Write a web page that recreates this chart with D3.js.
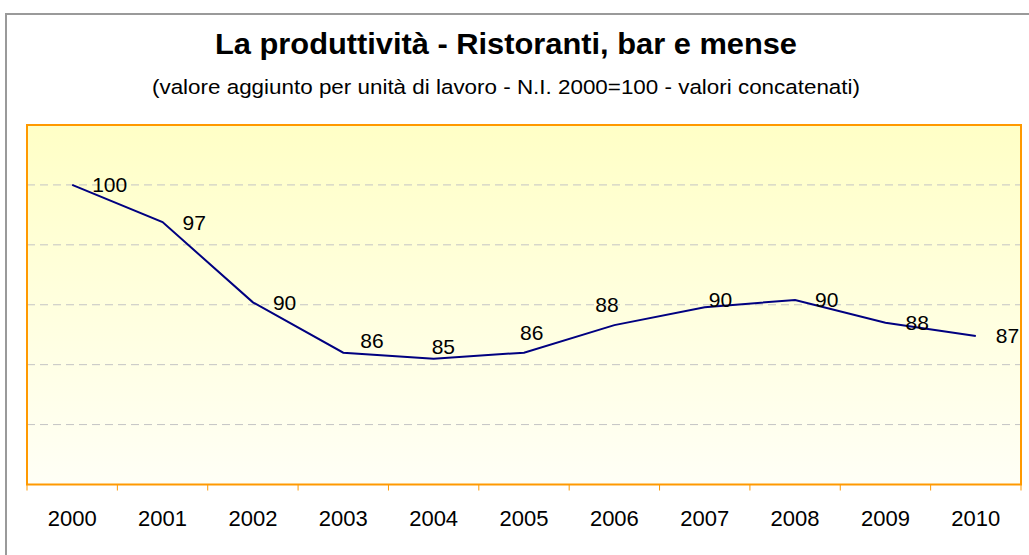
<!DOCTYPE html>
<html>
<head>
<meta charset="utf-8">
<script src="https://cdn.jsdelivr.net/npm/d3@7"></script>
<style>
  body { margin: 0; background: #fff; }
  svg text { font-family: "Liberation Sans", Arial, sans-serif; fill: #000; }
</style>
</head>
<body>
<div class="chart"></div>
<script>
// data
var years = ["2000", "2001", "2002", "2003", "2004", "2005", "2006", "2007", "2008", "2009", "2010"];
var values = [100, 96.9, 90.2, 86.0, 85.5, 86.0, 88.3, 89.8, 90.4, 88.5, 87.4];
var labels = ["100", "97", "90", "86", "85", "86", "88", "90", "90", "88", "87"];
var yDomain = [75, 105];

// hand moved labels in the original (px nudges from default right position)
var labelShift = [[0, 0], [0, 0], [0, 0], [-3, -12], [-22, -12], [-24, -20], [-39, -21], [-16, -8], [0, 0], [0, 0], [0, 0]];

const width = 1029, height = 555;
const plot = { left: 27, right: 1021, top: 125, bottom: 484.5 };

var svg = d3.select(".chart").append("svg")
  .attr("width", width)
  .attr("height", height);

// outer frame
svg.append("rect")
  .attr("x", 6).attr("y", 14)
  .attr("width", 1100).attr("height", 600)
  .attr("fill", "#fff")
  .attr("stroke", "#9a9a9a")
  .attr("stroke-width", 2);

// titles
svg.append("text")
  .attr("x", 506).attr("y", 54)
  .attr("text-anchor", "middle")
  .attr("textLength", 582)
  .attr("lengthAdjust", "spacingAndGlyphs")
  .style("font-weight", "bold")
  .style("font-size", "30px")
  .text("La produttività - Ristoranti, bar e mense");

svg.append("text")
  .attr("x", 506).attr("y", 94)
  .attr("text-anchor", "middle")
  .attr("textLength", 708)
  .attr("lengthAdjust", "spacingAndGlyphs")
  .style("font-size", "20.5px")
  .text("(valore aggiunto per unità di lavoro - N.I. 2000=100 - valori concatenati)");

var x = d3.scaleBand().domain(years).range([plot.left, plot.right]).padding(0);
var y = d3.scaleLinear().domain(yDomain).range([plot.bottom, plot.top]);

// plot background
var grad = svg.append("defs").append("linearGradient")
  .attr("id", "bg").attr("x1", 0).attr("y1", 0).attr("x2", 0).attr("y2", 1);
grad.append("stop").attr("offset", "0%").attr("stop-color", "#ffffc6");
grad.append("stop").attr("offset", "100%").attr("stop-color", "#fffff6");

svg.append("rect")
  .attr("x", plot.left).attr("y", plot.top)
  .attr("width", plot.right - plot.left)
  .attr("height", plot.bottom - plot.top)
  .attr("fill", "url(#bg)");

// gridlines
svg.append("g")
  .selectAll("line")
  .data(y.ticks(6).filter(d => d > yDomain[0] && d < yDomain[1]))
  .enter().append("line")
  .attr("x1", plot.left).attr("x2", plot.right)
  .attr("y1", d => y(d)).attr("y2", d => y(d))
  .attr("stroke", "#c4c4c4")
  .attr("stroke-width", 1)
  .attr("stroke-dasharray", "8,5");

// plot border
svg.append("rect")
  .attr("x", plot.left).attr("y", plot.top)
  .attr("width", plot.right - plot.left)
  .attr("height", plot.bottom - plot.top)
  .attr("fill", "none")
  .attr("stroke", "#ff9900")
  .attr("stroke-width", 2);

// category ticks at band edges
var edges = years.map(d => x(d)).concat([plot.right]);
svg.append("g")
  .selectAll("line")
  .data(edges)
  .enter().append("line")
  .attr("x1", d => d).attr("x2", d => d)
  .attr("y1", plot.bottom).attr("y2", plot.bottom + 6)
  .attr("stroke", "#ff9900")
  .attr("stroke-width", 1);

// axis labels
var xAxis = svg.append("g")
  .attr("transform", "translate(0," + plot.bottom + ")")
  .call(d3.axisBottom(x).tickSize(0).tickPadding(0));
xAxis.select(".domain").remove();
xAxis.selectAll("text")
  .attr("y", 41.5)
  .attr("dy", null)
  .style("font-size", "22px")
  .style("font-family", "'Liberation Sans', Arial, sans-serif")
  .attr("fill", "#000");

// line
var line = d3.line()
  .x((d, i) => x(years[i]) + x.bandwidth() / 2)
  .y(d => y(d));

svg.append("path")
  .datum(values)
  .attr("d", line)
  .attr("fill", "none")
  .attr("stroke", "#000080")
  .attr("stroke-width", 2);

// data labels
svg.append("g")
  .selectAll("text")
  .data(values)
  .enter().append("text")
  .attr("x", (d, i) => x(years[i]) + x.bandwidth() / 2 + 20 + labelShift[i][0])
  .attr("y", (d, i) => y(d) + 7.5 + labelShift[i][1])
  .style("font-size", "21px")
  .text((d, i) => labels[i]);
</script>
</body>
</html>
